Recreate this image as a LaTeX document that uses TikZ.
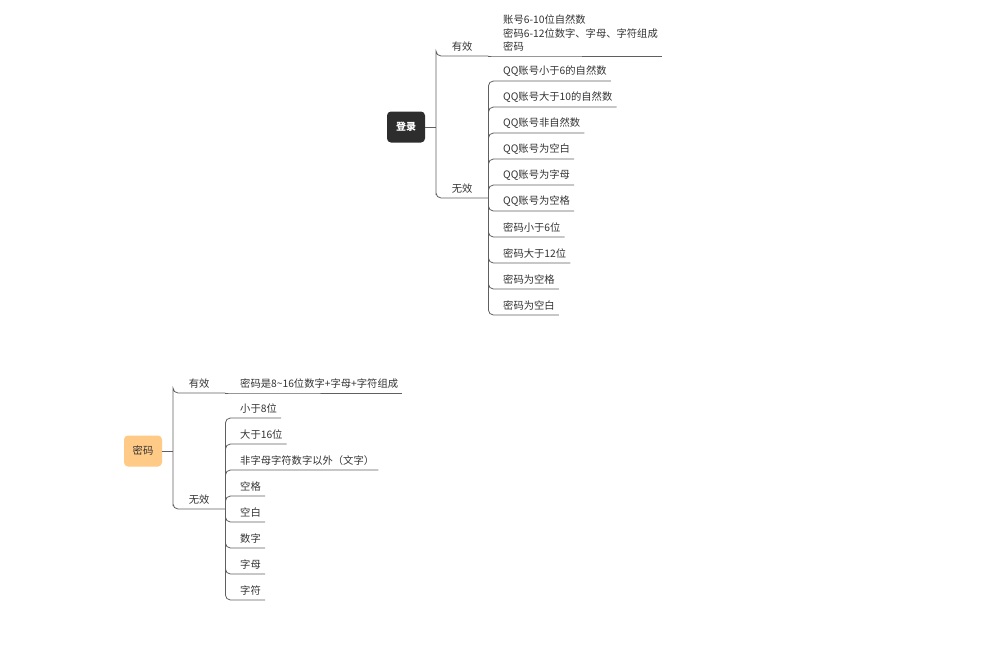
\documentclass[tikz,border=0pt]{standalone}
\usepackage{fontspec}
\setmainfont{Noto Sans CJK SC}
\usepackage{tikz}
\usetikzlibrary{positioning, calc}

\definecolor{rootdark}{HTML}{2D2D2D}
\definecolor{rootorange}{HTML}{FFCA85}
\definecolor{linegray}{HTML}{5F5F5F}
\definecolor{textgray}{HTML}{333333}

\begin{document}
\begin{tikzpicture}[x=1pt, y=-1pt, font=\fontsize{10.3}{13.5}\selectfont,
    root/.style={rectangle, rounded corners=4pt, minimum width=38pt, minimum height=31pt, inner sep=0pt},
    label/.style={anchor=south west, minimum width=52pt, inner xsep=0pt, inner ysep=4.5pt, text=textgray},
    leaf/.style={anchor=south west, align=left, inner xsep=4pt, inner ysep=4.5pt, text=textgray},
    branch/.style={draw=linegray, line width=0.8pt, rounded corners=5pt}]
    \useasboundingbox (0,0) rectangle (989,646);

    % Login tree
    \node[root, fill=rootdark, text=white, font=\fontsize{10}{12}\selectfont\bfseries] (login) at (406,127) {登录};
    \coordinate (lj) at (436,127);
    \draw[branch] (login.east) -- (lj);
    \node[label] (lvalid) at (436,56) {有效};
    \node[label] (linvalid) at (436,198) {无效};
    \draw[branch] (lj) |- (lvalid.south west) -- (lvalid.south east);
    \draw[branch] (lj) |- (linvalid.south west) -- (linvalid.south east);
    \node[leaf] (lok) at (499,56) {账号6-10位自然数\\密码6-12位数字、字母、字符组成\\密码};
    \draw[branch] (lvalid.south east) -- (lok.south west) -- (lok.south east);
    \foreach \t [count=\i] in {QQ账号小于6的自然数, QQ账号大于10的自然数, QQ账号非自然数, QQ账号为空白, QQ账号为字母,
        QQ账号为空格, 密码小于6位, 密码大于12位, 密码为空格, 密码为空白} {
        \node[leaf] (lbad\i) at (499,{81+26*(\i-1)}) {\t};
        \draw[branch] (linvalid.south east) |- (lbad\i.south west) -- (lbad\i.south east);
    }

    % Password tree
    \node[root, fill=rootorange, text=textgray] (pwd) at (143,451) {密码};
    \coordinate (pj) at (173,451);
    \draw[branch] (pwd.east) -- (pj);
    \node[label] (pvalid) at (173,393) {有效};
    \node[label] (pinvalid) at (173,509) {无效};
    \draw[branch] (pj) |- (pvalid.south west) -- (pvalid.south east);
    \draw[branch] (pj) |- (pinvalid.south west) -- (pinvalid.south east);
    \node[leaf] (pok) at (236,393) {密码是8\textasciitilde16位数字+字母+字符组成};
    \draw[branch] (pvalid.south east) -- (pok.south west) -- (pok.south east);
    \foreach \t [count=\i] in {小于8位, 大于16位, 非字母字符数字以外（文字）, 空格, 空白, 数字, 字母, 字符} {
        \node[leaf] (pbad\i) at (236,{418+26*(\i-1)}) {\t};
        \draw[branch] (pinvalid.south east) |- (pbad\i.south west) -- (pbad\i.south east);
    }
\end{tikzpicture}
\end{document}
